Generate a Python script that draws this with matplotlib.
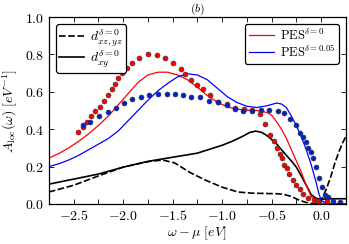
import numpy as np
import matplotlib
matplotlib.use("Agg")
import matplotlib.pyplot as plt
from matplotlib.ticker import MultipleLocator, FuncFormatter

plt.rcParams['mathtext.fontset'] = 'cm'
plt.rcParams['font.family'] = 'serif'
plt.rcParams['font.serif'] = ['DejaVu Serif']

# PES, delta = 0 (red line)
pes0_x = [-2.75, -2.65, -2.55, -2.45, -2.35, -2.25, -2.15, -2.05, -1.95, -1.85, -1.75, -1.65,
          -1.55, -1.45, -1.35, -1.25, -1.15, -1.05, -0.95, -0.85, -0.75, -0.65, -0.55, -0.5,
          -0.45, -0.4, -0.35, -0.3, -0.25, -0.2, -0.15, -0.1, -0.05, 0.0, 0.1, 0.25]
pes0_y = [0.245, 0.27, 0.30, 0.335, 0.375, 0.42, 0.47, 0.53, 0.59, 0.65, 0.69, 0.705,
          0.705, 0.69, 0.665, 0.625, 0.58, 0.545, 0.52, 0.507, 0.502, 0.50, 0.49, 0.475,
          0.44, 0.40, 0.35, 0.29, 0.23, 0.17, 0.10, 0.04, 0.012, 0.004, 0.001, 0.0]

# PES, delta = 0.05 (blue line)
pes005_x = [-2.75, -2.65, -2.55, -2.45, -2.35, -2.25, -2.15, -2.05, -1.95, -1.85, -1.75, -1.65,
            -1.55, -1.45, -1.35, -1.25, -1.15, -1.05, -0.95, -0.85, -0.75, -0.65, -0.55, -0.45,
            -0.4, -0.35, -0.3, -0.25, -0.2, -0.15, -0.1, -0.05, -0.025, 0.0, 0.05, 0.1, 0.25]
pes005_y = [0.20, 0.215, 0.235, 0.26, 0.29, 0.32, 0.35, 0.39, 0.445, 0.50, 0.555, 0.605,
            0.645, 0.68, 0.697, 0.69, 0.665, 0.62, 0.575, 0.543, 0.523, 0.516, 0.525, 0.54,
            0.535, 0.515, 0.47, 0.42, 0.36, 0.29, 0.21, 0.115, 0.06, 0.02, 0.005, 0.001, 0.0]

# d_xy, delta = 0 (solid black)
dxy_x = [-2.75, -2.5, -2.25, -2.0, -1.75, -1.5, -1.25, -1.0, -0.9, -0.8, -0.72, -0.66, -0.6,
         -0.55, -0.5, -0.45, -0.4, -0.35, -0.3, -0.25, -0.2, -0.15, -0.1, -0.05, 0.0, 0.05,
         0.1, 0.25]
dxy_y = [0.106, 0.133, 0.16, 0.197, 0.228, 0.25, 0.272, 0.314, 0.335, 0.36, 0.383, 0.39, 0.383,
         0.367, 0.345, 0.322, 0.29, 0.26, 0.23, 0.197, 0.15, 0.10, 0.05, 0.03, 0.025, 0.027,
         0.028, 0.028]

# d_xz,yz, delta = 0 (dashed black)
dxz_x = [-2.75, -2.5, -2.25, -2.0, -1.85, -1.73, -1.6, -1.48, -1.33, -1.17, -1.0, -0.84, -0.7,
         -0.55, -0.45, -0.38, -0.3, -0.22, -0.15, -0.1, -0.05, -0.02, 0.02, 0.06, 0.1, 0.14,
         0.18, 0.22, 0.25]
dxz_y = [0.064, 0.10, 0.15, 0.197, 0.215, 0.228, 0.235, 0.22, 0.17, 0.128, 0.09, 0.064, 0.058,
         0.056, 0.055, 0.052, 0.04, 0.02, 0.008, 0.003, 0.0, 0.005, 0.04, 0.09, 0.15, 0.22,
         0.28, 0.33, 0.36]

# experiment, red dots
exp_red_x = [-2.46, -2.41, -2.36, -2.32, -2.28, -2.235, -2.19, -2.15, -2.11, -2.08, -2.05, -2.01,
             -1.96, -1.91, -1.84, -1.75, -1.66, -1.58, -1.50, -1.42, -1.37, -1.31, -1.25, -1.19,
             -1.12, -1.04, -0.95, -0.87, -0.78, -0.70, -0.62, -0.57, -0.52, -0.48, -0.45, -0.42,
             -0.40, -0.37, -0.34, -0.32, -0.28, -0.25, -0.21, -0.18, -0.13, -0.07, -0.03, 0.06]
exp_red_y = [0.383, 0.41, 0.44, 0.47, 0.495, 0.52, 0.553, 0.585, 0.617, 0.644, 0.676, 0.70,
             0.73, 0.755, 0.78, 0.80, 0.795, 0.78, 0.755, 0.723, 0.697, 0.665, 0.638, 0.617,
             0.585, 0.548, 0.537, 0.516, 0.51, 0.505, 0.48, 0.43, 0.37, 0.335, 0.30, 0.27,
             0.245, 0.21, 0.19, 0.16, 0.13, 0.10, 0.08, 0.053, 0.03, 0.02, 0.016, 0.016]

# experiment, blue dots
exp_blue_x = [-2.41, -2.33, -2.24, -2.15, -2.07, -1.99, -1.91, -1.82, -1.74, -1.65, -1.56, -1.48,
              -1.40, -1.31, -1.22, -1.13, -1.04, -0.95, -0.87, -0.79, -0.70, -0.61, -0.53, -0.44,
              -0.37, -0.31, -0.25, -0.21, -0.18, -0.15, -0.13, -0.10, -0.08, -0.05, -0.02, 0.01,
              0.04, 0.07, 0.12, 0.19]
exp_blue_y = [0.42, 0.44, 0.47, 0.49, 0.516, 0.54, 0.56, 0.573, 0.585, 0.59, 0.59, 0.59,
              0.585, 0.575, 0.57, 0.553, 0.543, 0.527, 0.51, 0.50, 0.50, 0.505, 0.505, 0.50,
              0.485, 0.457, 0.42, 0.38, 0.356, 0.33, 0.30, 0.277, 0.245, 0.20, 0.14, 0.09,
              0.05, 0.035, 0.016, 0.008]

fig = plt.figure(figsize=(3.49, 2.44), dpi=100)
ax = fig.add_axes([0.140, 0.164, 0.851, 0.766])

l1, = ax.plot(dxz_x, dxz_y, 'k--', lw=1.2, dashes=(4, 1.5))
l2, = ax.plot(dxy_x, dxy_y, 'k-', lw=1.2)
l3, = ax.plot(pes0_x, pes0_y, '-', color='red', lw=0.9)
l4, = ax.plot(pes005_x, pes005_y, '-', color='blue', lw=0.9)
ax.plot(exp_red_x, exp_red_y, 'o', color='red', ms=3.6, mec='#333333', mew=0.4, ls='none')
ax.plot(exp_blue_x, exp_blue_y, 'o', color='#0022cc', ms=3.6, mec='#333333', mew=0.4, ls='none')

ax.set_xlim(-2.75, 0.25)
ax.set_ylim(0, 1.0)
ax.xaxis.set_major_locator(MultipleLocator(0.5))
ax.xaxis.set_minor_locator(MultipleLocator(0.25))
ax.yaxis.set_major_locator(MultipleLocator(0.2))
fmt = FuncFormatter(lambda v, p: r'$%.1f$' % v)
ax.xaxis.set_major_formatter(fmt)
ax.yaxis.set_major_formatter(fmt)
ax.tick_params(which='both', direction='in', top=True, right=True, labelsize=10)
ax.tick_params(which='major', length=3.5, width=0.6)
ax.tick_params(which='minor', length=3.5, width=0.6)
for s in ax.spines.values():
    s.set_linewidth(0.9)

ax.set_xlabel(r'$\omega-\mu\ [eV]$', fontsize=10, labelpad=1)
ax.set_ylabel(r'$A_{\rm loc}(\omega)\ [eV^{-1}]$', fontsize=10, labelpad=3)
ax.set_title(r'$(b)$', fontsize=8.5, pad=0)

leg1 = ax.legend([l1, l2], [r'$d_{xz,yz}^{\delta=0}$', r'$d_{xy}^{\delta=0}$'],
                 loc='upper left', fontsize=10, fancybox=True, framealpha=1,
                 borderaxespad=0.5, handlelength=1.8, labelspacing=0.0,
                 borderpad=0.25, handletextpad=0.4)
leg1.get_frame().set_edgecolor('black')
leg1.get_frame().set_linewidth(0.9)
ax.add_artist(leg1)
leg2 = ax.legend([l3, l4], [r'$\mathrm{PES}^{\delta=0}$', r'$\mathrm{PES}^{\delta=0.05}$'],
                 loc='upper right', fontsize=9, fancybox=True, framealpha=1,
                 borderaxespad=0.55, handlelength=2.0, labelspacing=0.1,
                 borderpad=0.3, handletextpad=0.5)
leg2.get_frame().set_edgecolor('black')
leg2.get_frame().set_linewidth(0.9)

fig.savefig('out.png', dpi=100)
